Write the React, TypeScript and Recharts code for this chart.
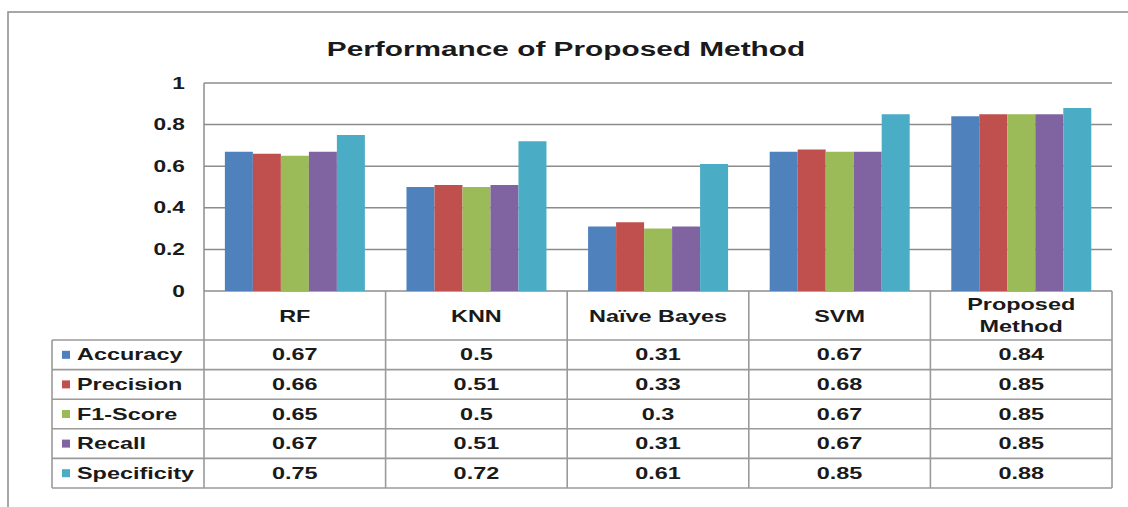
import { BarChart, Bar, XAxis, YAxis, CartesianGrid } from 'recharts'

const categories = ['RF', 'KNN', 'Naïve Bayes', 'SVM', 'Proposed Method']
const seriesNames = ['Accuracy', 'Precision', 'F1-Score', 'Recall', 'Specificity']
const accuracy = [0.67, 0.5, 0.31, 0.67, 0.84]
const precision = [0.66, 0.51, 0.33, 0.68, 0.85]
const f1Score = [0.65, 0.5, 0.3, 0.67, 0.85]
const recall = [0.67, 0.51, 0.31, 0.67, 0.85]
const specificity = [0.75, 0.72, 0.61, 0.85, 0.88]
const yTicks = [0, 0.2, 0.4, 0.6, 0.8, 1]

const COLORS = ['#4F81BD', '#C0504D', '#9BBB59', '#8064A2', '#4BACC6']
const seriesValues = [accuracy, precision, f1Score, recall, specificity]

const data = categories.map((name, i) => {
  const row: Record<string, string | number> = { name }
  seriesNames.forEach((s, j) => {
    row[s] = seriesValues[j][i]
  })
  return row
})

const W = 1128
const H = 507
const PLOT_LEFT = 204
const PLOT_RIGHT = 1112
const PLOT_TOP = 83
const PLOT_BOTTOM = 291
const TABLE_LEFT = 52
const HEADER_BOTTOM = 340
const ROW_H = 29.6
const LINE = '#9a9a9a'
const FONT = '"Liberation Sans", Arial, sans-serif'
const SX = 1.42

function Stretched({ x, y, text, size, anchor = 'middle', weight = 700 }: {
  x: number; y: number; text: string; size: number; anchor?: string; weight?: number
}) {
  return (
    <text
      transform={`translate(${x},${y}) scale(${SX},1)`}
      textAnchor={anchor as any}
      dominantBaseline="central"
      fontFamily={FONT}
      fontWeight={weight}
      fontSize={size}
      fill="#1a1a1a"
    >
      {text}
    </text>
  )
}

function YTick(props: any) {
  const { y, payload } = props
  return <Stretched x={185} y={y} text={String(payload.value)} size={16} anchor="end" />
}

function DataTable() {
  const colW = (PLOT_RIGHT - PLOT_LEFT) / categories.length
  const rowY = (r: number) => HEADER_BOTTOM + r * ROW_H
  const tableBottom = rowY(seriesNames.length)
  return (
    <svg width={W} height={H} style={{ position: 'absolute', left: 0, top: 0, pointerEvents: 'none' }}>
      {/* outer frame */}
      <polyline points={`8,${H} 8,12 ${W},12`} fill="none" stroke="#8a8a8a" strokeWidth={1.5} />
      <Stretched x={566} y={49} text="Performance of Proposed Method" size={21} />

      {/* header row */}
      {categories.map((c, i) => {
        const cx = PLOT_LEFT + colW * (i + 0.5)
        const parts = c === 'Proposed Method' ? ['Proposed', 'Method'] : [c]
        return parts.map((p, k) => (
          <Stretched
            key={c + k}
            x={cx}
            y={parts.length > 1 ? 304 + k * 22 : 316}
            text={p}
            size={16.5}
          />
        ))
      })}

      {/* horizontal lines */}
      {seriesNames.map((_, r) => (
        <line key={'h' + r} x1={TABLE_LEFT} x2={PLOT_RIGHT} y1={rowY(r)} y2={rowY(r)} stroke={LINE} strokeWidth={1.6} />
      ))}
      <line x1={TABLE_LEFT} x2={PLOT_RIGHT} y1={tableBottom} y2={tableBottom} stroke={LINE} strokeWidth={1.6} />

      {/* vertical lines */}
      <line x1={TABLE_LEFT} x2={TABLE_LEFT} y1={HEADER_BOTTOM} y2={tableBottom} stroke={LINE} strokeWidth={1.6} />
      {categories.map((_, i) => (
        <line
          key={'v' + i}
          x1={PLOT_LEFT + colW * i}
          x2={PLOT_LEFT + colW * i}
          y1={PLOT_BOTTOM}
          y2={tableBottom}
          stroke={LINE}
          strokeWidth={1.6}
        />
      ))}
      <line x1={PLOT_RIGHT} x2={PLOT_RIGHT} y1={PLOT_BOTTOM} y2={tableBottom} stroke={LINE} strokeWidth={1.6} />

      {/* rows */}
      {seriesNames.map((s, r) => {
        const cy = rowY(r) + ROW_H / 2
        return (
          <g key={s}>
            <rect x={62} y={cy - 4} width={8} height={8} fill={COLORS[r]} />
            <Stretched x={77} y={cy} text={s} size={16.5} anchor="start" />
            {seriesValues[r].map((v, i) => (
              <Stretched key={i} x={PLOT_LEFT + colW * (i + 0.5)} y={cy} text={String(v)} size={16.5} />
            ))}
          </g>
        )
      })}
    </svg>
  )
}

export default function App() {
  return (
    <div style={{ position: 'absolute', left: 0, top: 0, width: W, height: H, background: '#fff' }}>
      <BarChart
        width={W}
        height={H}
        data={data}
        margin={{ top: PLOT_TOP, right: W - PLOT_RIGHT, bottom: H - PLOT_BOTTOM, left: PLOT_LEFT - 44 }}
        barCategoryGap="11.5%"
        barGap={0}
      >
        <CartesianGrid vertical={false} stroke="#8c8c8c" strokeWidth={1.5} />
        <XAxis dataKey="name" hide />
        <YAxis
          width={44}
          domain={[0, 1]}
          ticks={yTicks}
          tickLine={false}
          axisLine={{ stroke: '#8c8c8c', strokeWidth: 1.5 }}
          tick={<YTick />}
          interval={0}
        />
        {seriesNames.map((s, i) => (
          <Bar key={s} dataKey={s} fill={COLORS[i]} isAnimationActive={false} />
        ))}
      </BarChart>
      <DataTable />
    </div>
  )
}
